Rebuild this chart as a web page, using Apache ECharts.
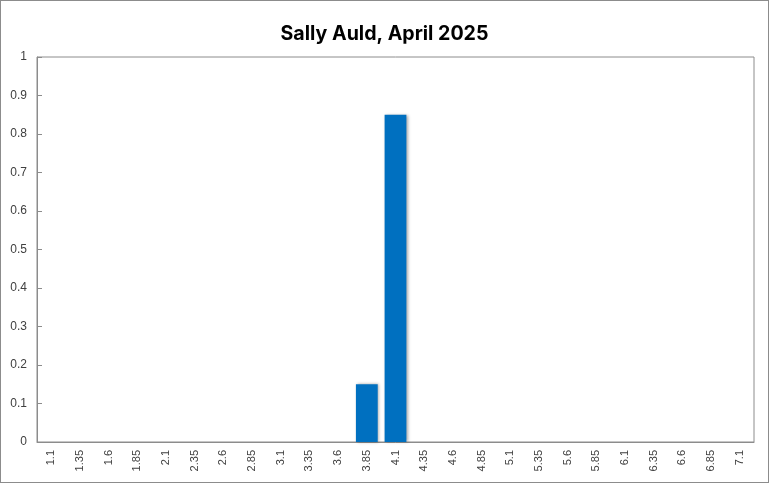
<!DOCTYPE html>
<html>
<head>
<meta charset="utf-8">
<script src="https://cdn.jsdelivr.net/npm/echarts@6/dist/echarts.min.js"></script>
<style>
  html, body { margin: 0; padding: 0; background: #fff; }
  #container { width: 767px; height: 481px; border: 1px solid #8c8c8c; }
</style>
</head>
<body>
<div id="container"></div>
<script>
// x 轴分类
var categories = ['1.1', '1.35', '1.6', '1.85', '2.1', '2.35', '2.6', '2.85', '3.1', '3.35',
    '3.6', '3.85', '4.1', '4.35', '4.6', '4.85', '5.1', '5.35', '5.6', '5.85',
    '6.1', '6.35', '6.6', '6.85', '7.1']
// 每个分类的比例
var values = [0, 0, 0, 0, 0, 0, 0, 0, 0, 0,
    0, 0.15, 0.85, 0, 0, 0, 0, 0, 0, 0,
    0, 0, 0, 0, 0]
var titleText = 'Sally Auld, April 2025'

var myChart = echarts.init(document.getElementById('container'))

var option = {
    animation: false,
    textStyle: { fontFamily: 'Liberation Sans, Arial, sans-serif' },
    title: {
        text: titleText,
        left: 'center',
        top: 18,
        textStyle: {
            fontFamily: 'Inter, Noto Sans, sans-serif',
            fontSize: 19.6,
            fontWeight: 'bold',
            color: '#000'
        }
    },
    grid: {
        left: 36,
        right: 14,
        top: 56,
        bottom: 40,
        show: true,
        borderColor: '#8c8c8c',
        borderWidth: 1
    },
    xAxis: {
        type: 'category',
        data: categories,
        axisLine: { lineStyle: { color: '#8c8c8c' } },
        axisTick: { inside: true, length: 4, lineStyle: { color: '#8c8c8c' } },
        axisLabel: { rotate: 90, fontSize: 11, color: '#404040', margin: 8 }
    },
    yAxis: {
        type: 'value',
        min: 0,
        max: 1,
        interval: 0.1,
        axisLine: { show: true, lineStyle: { color: '#8c8c8c' } },
        axisTick: { show: true, inside: true, length: 5, lineStyle: { color: '#8c8c8c' } },
        splitLine: { show: false },
        axisLabel: { fontSize: 12, color: '#404040', margin: 10 }
    },
    series: [{
        type: 'bar',
        data: values,
        barCategoryGap: '24%',
        itemStyle: {
            color: '#0070c0',
            shadowColor: 'rgba(0,0,0,0.35)',
            shadowBlur: 3,
            shadowOffsetX: 1.5,
            shadowOffsetY: 0
        }
    }]
}

myChart.setOption(option, true)
</script>
</body>
</html>
